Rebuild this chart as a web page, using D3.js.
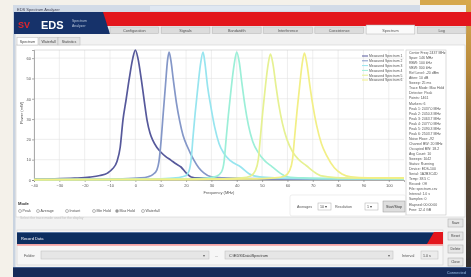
<!DOCTYPE html>
<html>
<head>
<meta charset="utf-8">
<script src="https://cdn.jsdelivr.net/npm/d3@7"></script>
<style>
  body { margin: 0; background: #f4f1ea; }
  svg { display: block; }
  text { font-family: 'Liberation Sans', Arial, sans-serif; }
</style>
</head>
<body>
<svg width="471" height="277"></svg>
<script>
// ---- data ----
const xTicks = [-40, -30, -20, -10, 0, 10, 20, 30, 40, 50, 60, 70, 80, 90, 100]
const yTicks = [0, 10, 20, 30, 40, 50, 60]

const seriesNames = ['Measured Spectrum 1', 'Measured Spectrum 2', 'Measured Spectrum 3',
  'Measured Spectrum 4', 'Measured Spectrum 5', 'Measured Spectrum 6']

// [frequency MHz, power]
const spectrum1 = [[-40, 0.5], [-32, 0.6], [-24, 0.9], [-18, 1.4], [-14, 2.2], [-11, 3.4], [-9, 5.5],
  [-7.3, 9], [-6, 16], [-4.9, 29.5], [-3.6, 40], [-2.4, 50], [-1, 60], [0, 64], [1, 60], [2.4, 49],
  [3.5, 39], [4.6, 29.5], [5.8, 23], [6.9, 19.5], [8.5, 16], [10, 13.8], [12, 11.5], [14, 9.8],
  [16, 8], [18, 6.4], [20, 3.5], [22, 1.5], [25, 1.0], [32, 0.8], [45, 0.6], [70, 0.5], [106, 0.4]]
const spectrum2 = [[-40, 0.3], [-20, 0.4], [-5, 0.6], [2, 1.0], [5, 1.6], [7, 2.8], [8.5, 5], [9.3, 9],
  [10.2, 20], [11, 33], [11.9, 47], [12.7, 59], [13.3, 63], [14, 59], [15, 49], [16.2, 38], [17.5, 29],
  [18.8, 22], [20.5, 16.5], [23, 10], [25, 6], [27, 3.5], [30, 1.5], [34, 1.0], [45, 0.7], [70, 0.5], [106, 0.4]]
const spectrum3 = [[-40, 0.2], [-10, 0.3], [10, 0.6], [16, 1.0], [18.5, 1.6], [20, 2.2], [21.2, 4.5],
  [22, 10], [22.8, 22], [23.6, 33], [24.6, 45], [25.7, 57], [26.7, 63], [27.4, 58], [28.5, 46], [29.8, 36],
  [31.3, 26], [33, 18], [35, 13], [37.5, 9.5], [41.6, 6.4], [45, 3], [49, 1.5], [55, 1.0], [70, 0.7], [106, 0.5]]
const spectrum4 = [[-40, 0.2], [0, 0.3], [20, 0.5], [28, 0.9], [32, 1.8], [34, 4], [35, 9], [35.8, 20],
  [36.7, 32], [37.8, 45], [39, 57], [40, 63], [41, 58], [42, 48], [43.2, 37], [44.6, 27], [46.3, 19],
  [48.5, 13.5], [51, 9.5], [54, 6.5], [57, 3.5], [60, 1.6], [66, 1.0], [80, 0.7], [106, 0.6]]
const spectrum5 = [[-40, 0.2], [10, 0.3], [35, 0.6], [42, 1.0], [45.5, 2], [47.3, 4.5], [48.5, 10],
  [49.4, 22], [50.3, 34], [51.3, 46], [52.4, 57], [53.3, 62], [54.3, 57], [55.4, 47], [56.6, 37], [58, 28],
  [59.8, 20], [62, 14], [64.5, 10], [67.5, 7], [70.5, 4], [73.5, 2], [79, 1.2], [90, 0.9], [106, 0.8]]
const spectrum6 = [[-40, 0.2], [20, 0.3], [48, 0.6], [55, 1.0], [59, 2], [60.8, 4.5], [62, 10],
  [62.9, 22], [63.8, 34], [64.8, 46], [65.8, 57], [66.7, 62.5], [67.7, 57], [68.8, 47], [70, 37],
  [71.5, 27], [73.4, 18], [75.5, 12], [78.5, 6], [81.5, 3], [85, 1.6], [92, 1.1], [106, 1.0]]

const mainTabs = ['Configuration', 'Signals', 'Bandwidth', 'Interference', 'Coexistence', 'Spectrum', 'Log']
const subTabs = ['Spectrum', 'Waterfall', 'Statistics']
const modes = ['Peak', 'Average', 'Instant', 'Min Hold', 'Max Hold', 'Waterfall']
const statusLines = ['Center Freq: 2437 MHz', 'Span: 146 MHz', 'RBW: 100 kHz', 'VBW: 300 kHz',
  'Ref Level: -20 dBm', 'Atten: 10 dB', 'Sweep: 25 ms', 'Trace Mode: Max Hold', 'Detector: Peak',
  'Points: 1461', 'Markers: 6', 'Peak 1: 2437.0 MHz', 'Peak 2: 2450.3 MHz', 'Peak 3: 2463.7 MHz',
  'Peak 4: 2477.0 MHz', 'Peak 5: 2490.3 MHz', 'Peak 6: 2503.7 MHz', 'Noise Floor: -92',
  'Channel BW: 20 MHz', 'Occupied BW: 18.2', 'Avg Count: 10', 'Sweeps: 1042', 'Status: Running',
  'Device: EDS-100', 'Serial: 1A2B3C4D', 'Temp: 38.5 C', 'Record: Off', 'File: spectrum.csv',
  'Interval: 1.0 s', 'Samples: 0', 'Elapsed: 00:00:00', 'Free: 12.4 GB']
const sideButtons = ['Save', 'Reset', 'Delete', 'Close']

const seriesData = [spectrum1, spectrum2, spectrum3, spectrum4, spectrum5, spectrum6]
const seriesColors = ['#56599b', '#8497c8', '#97e5ef', '#9cefd8', '#e6f192', '#f2ef86']

// ---- drawing ----
const svg = d3.select('svg')
const defs = svg.append('defs')
defs.append('filter').attr('id', 'soft')
  .append('feGaussianBlur').attr('stdDeviation', 0.6)
const rg = defs.append('linearGradient').attr('id', 'edge').attr('x1', 0).attr('x2', 0).attr('y1', 0).attr('y2', 1)
rg.append('stop').attr('offset', '0%').attr('stop-color', '#d8aa4e')
rg.append('stop').attr('offset', '25%').attr('stop-color', '#b88a3c')
rg.append('stop').attr('offset', '60%').attr('stop-color', '#5e4a32')
rg.append('stop').attr('offset', '100%').attr('stop-color', '#2b2a2e')

const root = svg.append('g').attr('filter', 'url(#soft)')

// background and window frame
root.append('rect').attr('width', 471).attr('height', 277).attr('fill', '#f4f1ea')
root.append('rect').attr('x', 420).attr('y', 0).attr('width', 51).attr('height', 14).attr('fill', '#d6a84d')
root.append('rect').attr('x', 466).attr('y', 0).attr('width', 5).attr('height', 277).attr('fill', 'url(#edge)')
root.append('rect').attr('x', 13).attr('y', 5).attr('width', 453).attr('height', 264).attr('fill', '#f2f2f2')
root.append('rect').attr('x', 13).attr('y', 5).attr('width', 407).attr('height', 7).attr('fill', '#d2dbe7')
root.append('rect').attr('x', 150).attr('y', 6).attr('width', 160).attr('height', 5).attr('fill', '#dfe7f1')
root.append('text').attr('x', 17).attr('y', 10.5).attr('font-size', 4).attr('fill', '#445')
  .text('EDS Spectrum Analyzer')
root.append('rect').attr('x', 13).attr('y', 12).attr('width', 2.5).attr('height', 256).attr('fill', '#c9d3e0')

// header
root.append('rect').attr('x', 100).attr('y', 12).attr('width', 371).attr('height', 14).attr('fill', '#e3141d')
root.append('rect').attr('x', 100).attr('y', 26).attr('width', 366).attr('height', 8).attr('fill', '#ececec')
root.append('polygon').attr('points', '14,12 103,12 110,34 14,34').attr('fill', '#15326a')
root.append('text').attr('x', 18).attr('y', 28).attr('font-size', 9).attr('font-weight', 'bold')
  .attr('fill', '#e0262c').text('SV')
root.append('text').attr('x', 41).attr('y', 28.5).attr('font-size', 11).attr('font-weight', 'bold')
  .attr('fill', '#ffffff').text('EDS')
root.append('text').attr('x', 72).attr('y', 22).attr('font-size', 3.5).attr('fill', '#b8c4d8').text('Spectrum')
root.append('text').attr('x', 72).attr('y', 26.5).attr('font-size', 3.5).attr('fill', '#b8c4d8').text('Analyzer')

const tabX = d3.scaleBand().domain(mainTabs).range([110, 466]).paddingInner(0.05)
const tabs = root.append('g').selectAll('g').data(mainTabs).enter().append('g')
tabs.append('rect')
  .attr('x', d => tabX(d)).attr('y', d => d === 'Spectrum' ? 25 : 27)
  .attr('width', tabX.bandwidth()).attr('height', d => d === 'Spectrum' ? 9 : 6.5)
  .attr('fill', d => d === 'Spectrum' ? '#fafafa' : '#dcdcdc')
  .attr('stroke', '#b5b5b5').attr('stroke-width', 0.5)
tabs.append('text')
  .attr('x', d => tabX(d) + tabX.bandwidth() / 2).attr('y', 31.5)
  .attr('text-anchor', 'middle').attr('font-size', 3.8).attr('fill', '#555')
  .text(d => d)

// sub tabs and content panel
root.append('rect').attr('x', 16).attr('y', 45).attr('width', 449).attr('height', 172)
  .attr('fill', '#ffffff').attr('stroke', '#cfcfcf').attr('stroke-width', 0.6)
const subX = [17, 39, 58]
const subW = [21, 19, 22]
const st = root.append('g').selectAll('g').data(subTabs).enter().append('g')
st.append('rect').attr('x', (d, i) => subX[i]).attr('y', 37.5).attr('width', (d, i) => subW[i]).attr('height', 7.5)
  .attr('fill', (d, i) => i === 0 ? '#ffffff' : '#e4e4e4').attr('stroke', '#b9b9b9').attr('stroke-width', 0.5)
st.append('text').attr('x', (d, i) => subX[i] + subW[i] / 2).attr('y', 42.8)
  .attr('text-anchor', 'middle').attr('font-size', 3.6).attr('fill', '#444').text(d => d)

// chart
const x = d3.scaleLinear().domain([-40, 106]).range([34, 404])
const y = d3.scaleLinear().domain([0, 64]).range([180, 50])
const chart = root.append('g')

chart.append('g').selectAll('line').data(xTicks).enter().append('line')
  .attr('x1', d => x(d)).attr('x2', d => x(d)).attr('y1', 50).attr('y2', 180)
  .attr('stroke', '#e3e3e3').attr('stroke-width', 0.6)
chart.append('g').selectAll('line').data(yTicks).enter().append('line')
  .attr('x1', 34).attr('x2', 404).attr('y1', d => y(d)).attr('y2', d => y(d))
  .attr('stroke', '#e3e3e3').attr('stroke-width', 0.6)
chart.append('line').attr('x1', 34).attr('x2', 404).attr('y1', 50).attr('y2', 50)
  .attr('stroke', '#c8c8c8').attr('stroke-width', 0.6)

const xAxis = chart.append('g').attr('transform', 'translate(0,180)')
  .call(d3.axisBottom(x).tickValues(xTicks).tickSize(2).tickPadding(2))
const yAxis = chart.append('g').attr('transform', 'translate(34,0)')
  .call(d3.axisLeft(y).tickValues(yTicks).tickSize(2).tickPadding(1))
for (const ax of [xAxis, yAxis]) {
  ax.attr('font-size', 4).attr('font-family', 'Liberation Sans, Arial, sans-serif')
  ax.selectAll('path,line').attr('stroke', '#777').attr('stroke-width', 0.6)
  ax.selectAll('text').attr('fill', '#555')
}
chart.append('text').attr('x', 219).attr('y', 194).attr('text-anchor', 'middle')
  .attr('font-size', 4).attr('fill', '#555').text('Frequency (MHz)')
chart.append('text').attr('transform', 'translate(23,113) rotate(-90)').attr('text-anchor', 'middle')
  .attr('font-size', 4).attr('fill', '#555').text('Power (mW)')

const line = d3.line().x(d => x(d[0])).y(d => y(d[1])).curve(d3.curveMonotoneX)
chart.append('g').selectAll('path').data(seriesData).enter().append('path')
  .attr('d', line).attr('fill', 'none')
  .attr('stroke', (d, i) => seriesColors[i]).attr('stroke-width', 1.7)
  .attr('stroke-linejoin', 'round')

// legend
const lg = chart.append('g').selectAll('g').data(seriesNames).enter().append('g')
  .attr('transform', (d, i) => 'translate(362,' + (56 + i * 4.8) + ')')
lg.append('line').attr('x1', 0).attr('x2', 6).attr('stroke', (d, i) => seriesColors[i]).attr('stroke-width', 1)
lg.append('text').attr('x', 7).attr('y', 1.3).attr('font-size', 3.4).attr('fill', '#555').text(d => d)

// status list
root.append('rect').attr('x', 406).attr('y', 50).attr('width', 40).attr('height', 165)
  .attr('fill', '#ffffff').attr('stroke', '#c4c4c4').attr('stroke-width', 0.6)
root.append('g').selectAll('text').data(statusLines).enter().append('text')
  .attr('x', 409).attr('y', (d, i) => 54 + i * 5.05).attr('font-size', 3.5).attr('fill', '#555')
  .text(d => d)

// mode selection
root.append('text').attr('x', 18).attr('y', 204.5).attr('font-size', 4.2).attr('font-weight', 'bold')
  .attr('fill', '#333').text('Mode')
const modeX = [20, 38, 67, 94, 117, 143]
const md = root.append('g').selectAll('g').data(modes).enter().append('g')
  .attr('transform', (d, i) => 'translate(' + modeX[i] + ',211)')
md.append('circle').attr('r', 1.5).attr('fill', '#fff').attr('stroke', '#777').attr('stroke-width', 0.5)
md.filter(d => d === 'Max Hold').append('circle').attr('r', 0.8).attr('fill', '#333')
md.append('text').attr('x', 2.5).attr('y', 1.3).attr('font-size', 3.6).attr('fill', '#555').text(d => d)
root.append('text').attr('x', 20).attr('y', 219).attr('font-size', 3.4).attr('fill', '#c4c4c4')
  .text('Select the trace mode used for the display')

// averaging controls
root.append('rect').attr('x', 290).attr('y', 195).attr('width', 116).attr('height', 21).attr('rx', 2)
  .attr('fill', 'none').attr('stroke', '#e2e2e2').attr('stroke-width', 0.6)
root.append('text').attr('x', 297).attr('y', 208).attr('font-size', 3.6).attr('fill', '#555').text('Averages')
root.append('rect').attr('x', 318).attr('y', 203).attr('width', 13).attr('height', 7)
  .attr('fill', '#fff').attr('stroke', '#aaa').attr('stroke-width', 0.5)
root.append('text').attr('x', 320).attr('y', 208).attr('font-size', 3.6).attr('fill', '#444').text('10 ▾')
root.append('text').attr('x', 335).attr('y', 208).attr('font-size', 3.6).attr('fill', '#555').text('Resolution')
root.append('rect').attr('x', 365).attr('y', 203).attr('width', 13).attr('height', 7)
  .attr('fill', '#fff').attr('stroke', '#aaa').attr('stroke-width', 0.5)
root.append('text').attr('x', 367).attr('y', 208).attr('font-size', 3.6).attr('fill', '#444').text('1 ▾')
root.append('rect').attr('x', 383).attr('y', 201).attr('width', 22).attr('height', 11)
  .attr('fill', '#dedede').attr('stroke', '#999').attr('stroke-width', 0.5)
root.append('text').attr('x', 394).attr('y', 207.8).attr('text-anchor', 'middle').attr('font-size', 3.6)
  .attr('fill', '#333').text('Start/Stop')

// side buttons
const sb = root.append('g').selectAll('g').data(sideButtons).enter().append('g')
  .attr('transform', (d, i) => 'translate(448,' + (219 + i * 13) + ')')
sb.append('rect').attr('width', 15).attr('height', 8).attr('fill', '#e6e6e6').attr('stroke', '#a8a8a8').attr('stroke-width', 0.5)
sb.append('text').attr('x', 7.5).attr('y', 5.3).attr('text-anchor', 'middle').attr('font-size', 3.4).attr('fill', '#444').text(d => d)

// record data group
root.append('rect').attr('x', 17).attr('y', 230).attr('width', 426).attr('height', 35)
  .attr('fill', '#f6f6f6').attr('stroke', '#cfcfcf').attr('stroke-width', 0.6)
root.append('rect').attr('x', 17).attr('y', 232).attr('width', 426).attr('height', 12).attr('fill', '#0e2d60')
root.append('rect').attr('x', 17).attr('y', 232).attr('width', 426).attr('height', 1).attr('fill', '#5673a0')
root.append('polygon').attr('points', '434,232 443,232 443,244 427,244').attr('fill', '#e3141d')
root.append('rect').attr('x', 17).attr('y', 244).attr('width', 426).attr('height', 1.8).attr('fill', '#f3a3a3')
root.append('text').attr('x', 21).attr('y', 240).attr('font-size', 4).attr('fill', '#ffffff').text('Record Data')
root.append('text').attr('x', 24).attr('y', 256.5).attr('font-size', 3.8).attr('fill', '#555').text('Folder')
root.append('rect').attr('x', 41).attr('y', 251).attr('width', 168).attr('height', 8)
  .attr('fill', '#e6e6e6').attr('stroke', '#bcbcbc').attr('stroke-width', 0.5)
root.append('text').attr('x', 203).attr('y', 256.5).attr('font-size', 3.8).attr('fill', '#666').text('▾')
root.append('text').attr('x', 215).attr('y', 256.5).attr('font-size', 3.8).attr('fill', '#555').text('...')
root.append('rect').attr('x', 225).attr('y', 251).attr('width', 168).attr('height', 8)
  .attr('fill', '#e6e6e6').attr('stroke', '#bcbcbc').attr('stroke-width', 0.5)
root.append('text').attr('x', 229).attr('y', 256.5).attr('font-size', 3.8).attr('fill', '#333')
  .text('C:\\EDS\\Data\\Spectrum')
root.append('text').attr('x', 388).attr('y', 256.5).attr('font-size', 3.8).attr('fill', '#666').text('▾')
root.append('text').attr('x', 402).attr('y', 256.5).attr('font-size', 3.8).attr('fill', '#555').text('Interval')
root.append('rect').attr('x', 421).attr('y', 251).attr('width', 17).attr('height', 8)
  .attr('fill', '#ececec').attr('stroke', '#bcbcbc').attr('stroke-width', 0.5)
root.append('text').attr('x', 423).attr('y', 256.5).attr('font-size', 3.6).attr('fill', '#444').text('1.0 s')

// footer
root.append('rect').attr('x', 13).attr('y', 267).attr('width', 458).attr('height', 10).attr('fill', '#142b58')
root.append('rect').attr('x', 13).attr('y', 267).attr('width', 458).attr('height', 0.8).attr('fill', '#4a6a9a')
root.append('text').attr('x', 466).attr('y', 274).attr('text-anchor', 'end').attr('font-size', 4)
  .attr('fill', '#9dbfe9').text('Connected')
</script>
</body>
</html>
